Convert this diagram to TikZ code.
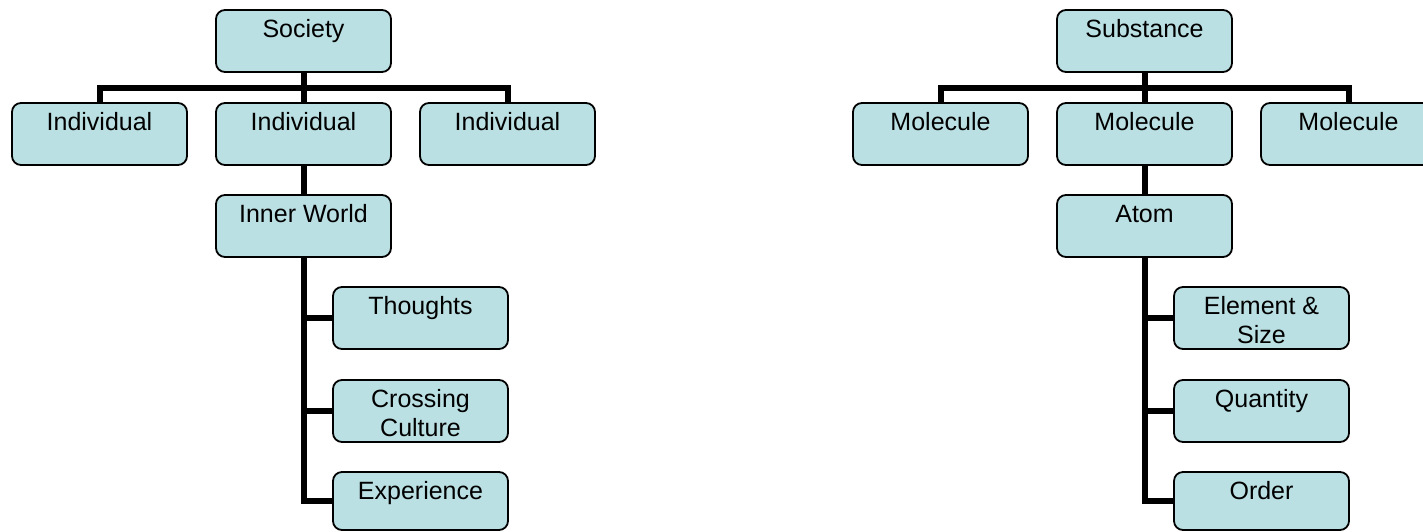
\documentclass[tikz,border=0pt]{standalone}
\usepackage{fontspec}
\setmainfont{Liberation Sans}
\usetikzlibrary{calc}
\definecolor{boxfill}{RGB}{187,224,227}
\newcommand\boxtxt[2][62pt]{\parbox[c][#1][t]{170pt}{\centering\rule{0pt}{27pt}#2\par}}
\begin{document}
\begin{tikzpicture}[x=1pt,y=-1pt,
  box/.style={draw=black, line width=1.8pt, fill=boxfill, rounded corners=9pt,
    inner sep=0pt, minimum width=175pt, font=\fontsize{25}{29}\selectfont},
  conn/.style={draw=black, line width=6pt}]
\useasboundingbox (0,0) rectangle (1423,531);

% ---------- left tree ----------
\node[box] (soc)  at (303.5,41)  {\boxtxt{Society}};
\node[box] (ind1) at (99.5,134)  {\boxtxt{Individual}};
\node[box] (ind2) at (303.5,134) {\boxtxt{Individual}};
\node[box] (ind3) at (507.5,134) {\boxtxt{Individual}};
\node[box] (iw)   at (303.5,226) {\boxtxt{Inner World}};
\node[box] (th)   at (420.5,318) {\boxtxt{Thoughts}};
\node[box] (cc)   at (420.5,411) {\boxtxt{Crossing\\Culture}};
\node[box] (ex)   at (420.5,501) {\boxtxt[58pt]{Experience}};

\coordinate (jl) at ($(soc.south)!0.5!(ind2.north)$);
\draw[conn] (soc.south) -- (ind2.north);
\draw[conn] (ind1.north) |- (jl);
\draw[conn] (ind3.north) |- (jl);
\draw[conn] (ind2.south) -- (iw.north);
\draw[conn] (iw.south) |- (th.west);
\draw[conn] (iw.south) |- (cc.west);
\draw[conn] (iw.south) |- (ex.west);

% ---------- right tree ----------
\node[box] (sub)  at (1144.5,41)  {\boxtxt{Substance}};
\node[box] (mol1) at (940.5,134)  {\boxtxt{Molecule}};
\node[box] (mol2) at (1144.5,134) {\boxtxt{Molecule}};
\node[box] (mol3) at (1348.5,134) {\boxtxt{Molecule}};
\node[box] (atom) at (1144.5,226) {\boxtxt{Atom}};
\node[box] (el)   at (1261.5,318) {\boxtxt{Element \&\\Size}};
\node[box] (qu)   at (1261.5,411) {\boxtxt{Quantity}};
\node[box] (ord)  at (1261.5,501) {\boxtxt[58pt]{Order}};

\coordinate (jr) at ($(sub.south)!0.5!(mol2.north)$);
\draw[conn] (sub.south) -- (mol2.north);
\draw[conn] (mol1.north) |- (jr);
\draw[conn] (mol3.north) |- (jr);
\draw[conn] (mol2.south) -- (atom.north);
\draw[conn] (atom.south) |- (el.west);
\draw[conn] (atom.south) |- (qu.west);
\draw[conn] (atom.south) |- (ord.west);
\end{tikzpicture}
\end{document}
